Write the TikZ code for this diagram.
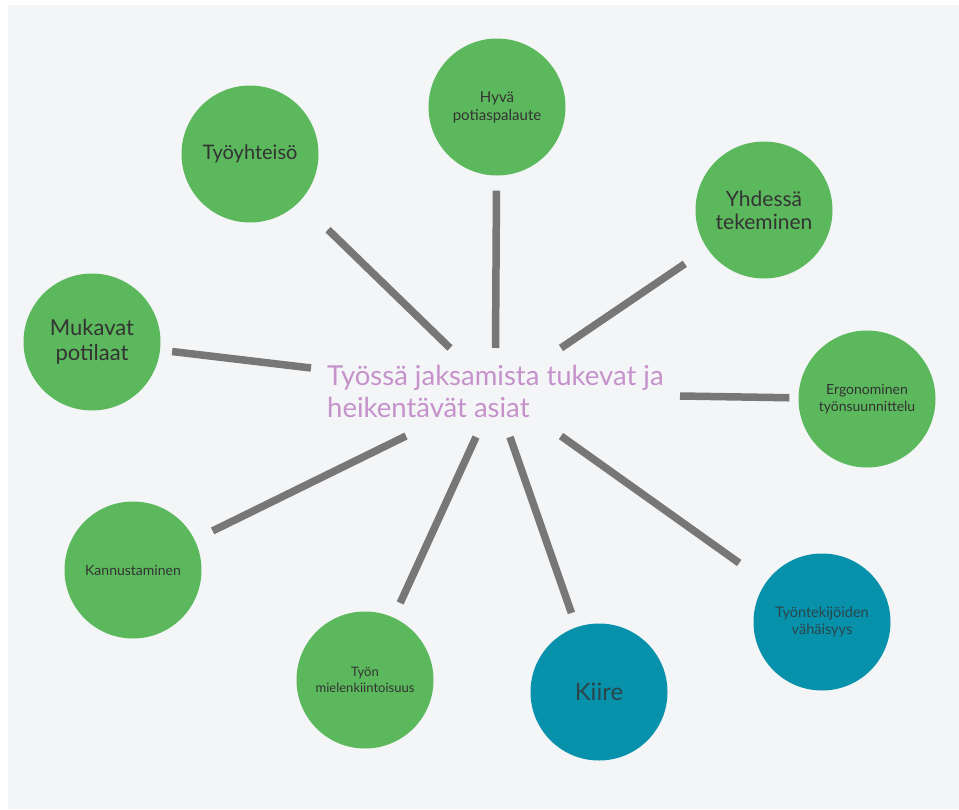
\documentclass[tikz,border=0pt]{standalone}
\usepackage{fontspec}
\setmainfont{Lato}
\definecolor{BackClr}{HTML}{F4F5F7}
\definecolor{GreenClr}{HTML}{5CB85C}
\definecolor{TealClr}{HTML}{0891AA}
\definecolor{LinkClr}{HTML}{777777}
\definecolor{HubClr}{HTML}{C592CB}
\definecolor{TextClr}{HTML}{333333}

\begin{document}
\begin{tikzpicture}[x=1pt,y=-1pt,
  bubble/.style={circle,fill=GreenClr,minimum size=137pt,inner sep=0pt,
    align=center,text=TextClr},
  bluebubble/.style={bubble,fill=TealClr,text=TextClr!80!TealClr},
  link/.style={draw=LinkClr,line width=7.5pt}]
\useasboundingbox (0,0) rectangle (959,809);
\fill[BackClr] (8,5) rectangle (959,809);

\node[bubble,font=\fontsize{20}{24}\selectfont] (yhteiso) at (250,154) {Työyhteisö};
\node[bubble,font=\fontsize{15}{18}\selectfont] (palaute) at (497,107) {Hyvä\\potiaspalaute};
\node[bubble,font=\fontsize{21}{23}\selectfont] (yhdessa) at (764,210) {Yhdessä\\tekeminen};
\node[bubble,font=\fontsize{22}{25}\selectfont] (potilaat) at (92,342) {Mukavat\\potilaat};
\node[bubble,font=\fontsize{14}{17}\selectfont] (ergo) at (867,399) {Ergonominen\\työnsuunnittelu};
\node[bubble,font=\fontsize{14}{17}\selectfont] (kannustus) at (133,570) {Kannustaminen};
\node[bubble,font=\fontsize{13}{16}\selectfont] (mielenkiinto) at (365,680) {Työn\\mielenkiintoisuus};
\node[bluebubble,font=\fontsize{24}{28}\selectfont] (kiire) at (599,692) {Kiire};
\node[bluebubble,font=\fontsize{14.5}{17}\selectfont] (vahaisyys) at (822,622) {Työntekijöiden\\vähäisyys};

\node[anchor=base west,inner sep=0pt,align=left,text=HubClr,
  font=\fontsize{27.5}{32}\selectfont] (hub) at (327,417)
  {Työssä jaksamista tukevat ja\\heikentävät asiat};

\coordinate (h1) at (450,348);
\coordinate (h2) at (495.5,348);
\coordinate (h3) at (561,348);
\coordinate (h4) at (311,368);
\coordinate (h5) at (680,396);
\coordinate (h6) at (406,436);
\coordinate (h7) at (476,437);
\coordinate (h8) at (510,437);
\coordinate (h9) at (561,436);

\draw[link,shorten <=40pt] (yhteiso) -- (h1);
\draw[link,shorten <=15pt] (palaute) -- (h2);
\draw[link,shorten <=27pt] (yhdessa) -- (h3);
\draw[link,shorten <=12pt] (potilaat) -- (h4);
\draw[link,shorten <=9pt] (ergo) -- (h5);
\draw[link,shorten <=20pt] (kannustus) -- (h6);
\draw[link,shorten <=16pt] (mielenkiinto) -- (h7);
\draw[link,shorten <=15pt] (kiire) -- (h8);
\draw[link,shorten <=33pt] (vahaisyys) -- (h9);

\end{tikzpicture}
\end{document}
